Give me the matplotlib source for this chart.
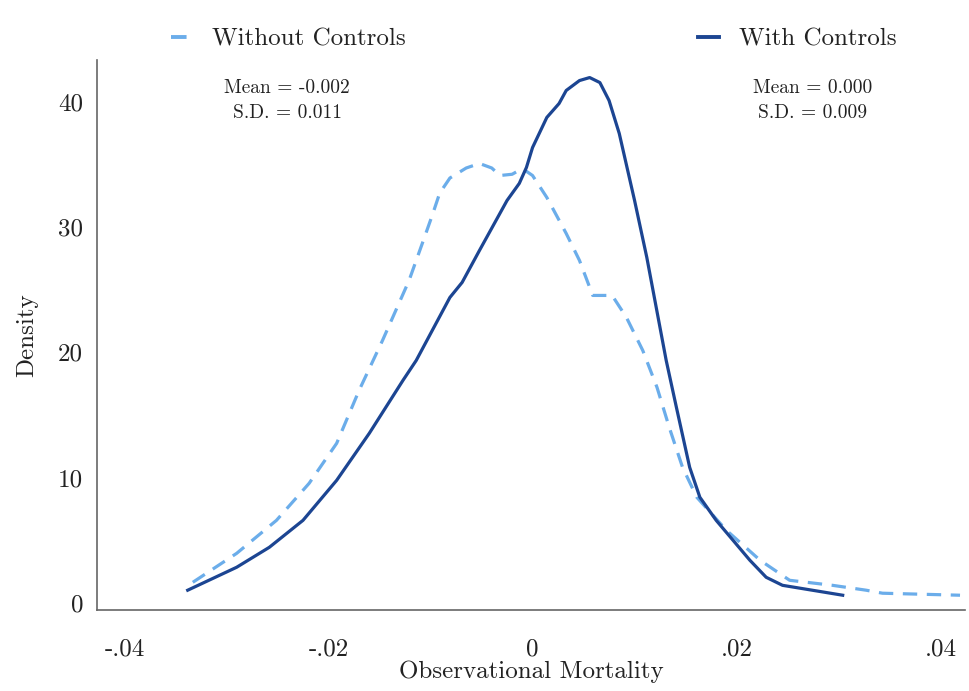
import matplotlib
matplotlib.use("Agg")
import matplotlib.pyplot as plt
from matplotlib.lines import Line2D

plt.rcParams['font.family'] = ['cmr10', 'DejaVu Serif']
plt.rcParams['axes.formatter.use_mathtext'] = True

# Kernel density, without controls (dashed)
x_without = [-0.0333, -0.0290, -0.0251, -0.0219, -0.0192, -0.0170, -0.0147, -0.0121,
             -0.0108, -0.0098, -0.0091, -0.0081, -0.0065, -0.0052, -0.0040, -0.0032,
             -0.0020, -0.0010, 0.0000, 0.0014, 0.0033,
             0.0046, 0.0059, 0.0078, 0.0092, 0.0108, 0.0122, 0.0134, 0.0147,
             0.0161, 0.0190, 0.0223, 0.0252, 0.0294, 0.0327, 0.0343, 0.0419]
y_without = [1.67, 3.98, 6.61, 9.56, 12.75, 16.97, 20.96, 25.74,
             28.7, 31.0, 32.7, 33.9, 34.7, 35.06, 34.7, 34.1,
             34.2, 34.66, 34.10, 32.35, 29.48,
             27.33, 24.54, 24.54, 22.79, 20.16, 17.21, 14.02, 10.84,
             8.45, 5.82, 3.43, 1.83, 1.43, 1.04, 0.80, 0.64]

# Kernel density, with controls (solid)
x_with = [-0.0338, -0.0290, -0.0258, -0.0225, -0.0192, -0.0160, -0.0127, -0.0114,
          -0.0081, -0.0069, -0.0052, -0.0025, -0.0013, -0.0006, 0.0000, 0.0014,
          0.0026, 0.0033, 0.0046, 0.0056, 0.0066, 0.0075, 0.0085, 0.0100,
          0.0112, 0.0131, 0.0141, 0.0154, 0.0164, 0.0180, 0.0213,
          0.0229, 0.0245, 0.0304]
y_with = [1.04, 2.87, 4.46, 6.61, 9.80, 13.55, 17.77, 19.36,
          24.38, 25.58, 28.13, 32.11, 33.47, 34.74, 36.33, 38.73,
          39.84, 40.88, 41.67, 41.91, 41.51, 40.08, 37.45, 32.11,
          27.57, 19.36, 15.62, 10.84, 8.45, 6.61, 3.43,
          2.07, 1.43, 0.64]

x_ticks = [-0.04, -0.02, 0.0, 0.02, 0.04]
x_ticklabels = ['-.04', '-.02', '0', '.02', '.04']
y_ticks = [0, 10, 20, 30, 40]
y_ticklabels = ['0', '10', '20', '30', '40']

series_labels = ['Without Controls', 'With Controls']
stats_without = ['Mean = -0.002', 'S.D. = 0.011']
stats_with = ['Mean = 0.000', 'S.D. = 0.009']

c_light = '#6badea'
c_dark = '#1c4592'

fig = plt.figure(figsize=(9.69, 6.91), dpi=100)
ax = fig.add_axes([0.100, 0.117, 0.896, 0.796])

ax.plot(x_without, y_without, color=c_light, lw=2.3, linestyle=(0, (4.5, 3)))
ax.plot(x_with, y_with, color=c_dark, lw=2.3)

ax.set_xlim(-0.0427, 0.0424)
ax.set_ylim(-0.55, 43.3)
ax.set_xticks(x_ticks)
ax.set_xticklabels(x_ticklabels)
ax.set_yticks(y_ticks)
ax.set_yticklabels(y_ticklabels)
ax.tick_params(axis='both', length=0, labelsize=18, colors='#222222')
ax.tick_params(axis='x', pad=20)
ax.tick_params(axis='y', pad=10)
for s in ['top', 'right']:
    ax.spines[s].set_visible(False)
for s in ['left', 'bottom']:
    ax.spines[s].set_color('#666666')
    ax.spines[s].set_linewidth(1.2)

ax.set_xlabel('Observational Mortality', fontsize=18, labelpad=0, color='#222222')
ax.set_ylabel('Density', fontsize=18, labelpad=14, color='#222222')

ax.text(0.219, 0.966, stats_without[0] + '\n' + stats_without[1], transform=ax.transAxes,
        ha='center', va='top', fontsize=14, linespacing=1.5, color='#222222')
ax.text(0.824, 0.966, stats_with[0] + '\n' + stats_with[1], transform=ax.transAxes,
        ha='center', va='top', fontsize=14, linespacing=1.5, color='#222222')

h1 = Line2D([], [], color=c_light, lw=2.8, linestyle=(0, (4, 1.8)))
h2 = Line2D([], [], color=c_dark, lw=2.8)
fig.legend([h1], [series_labels[0]], loc='center left', bbox_to_anchor=(0.153, 0.943),
           frameon=False, fontsize=18, handlelength=0.85, handletextpad=0.8, labelcolor='#222222')
fig.legend([h2], [series_labels[1]], loc='center left', bbox_to_anchor=(0.697, 0.943),
           frameon=False, fontsize=18, handlelength=0.85, handletextpad=0.8, labelcolor='#222222')

fig.savefig('out.png', dpi=100)
